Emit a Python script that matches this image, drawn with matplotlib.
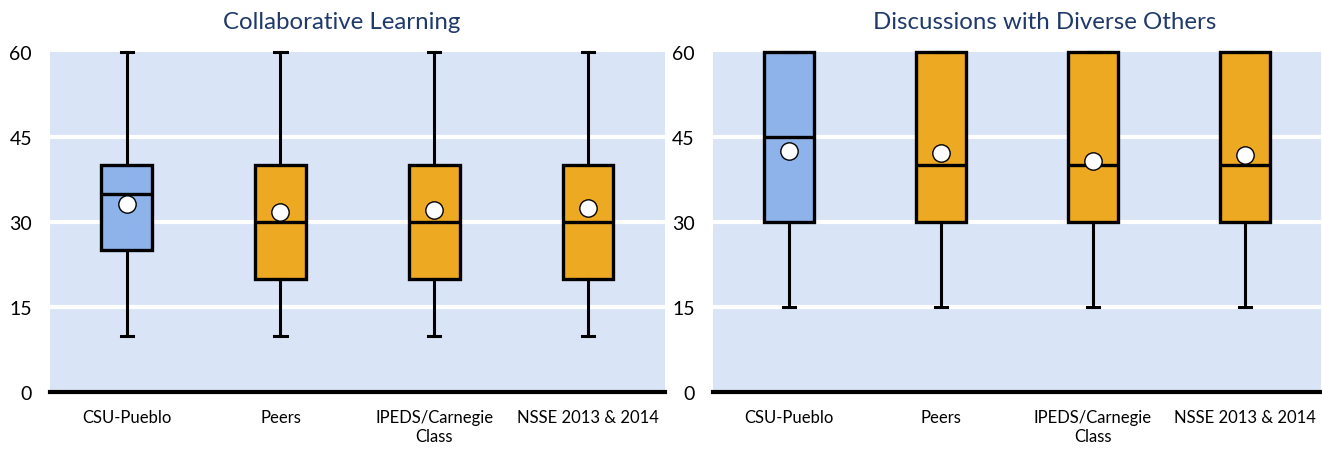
import matplotlib.pyplot as plt

plt.rcParams['font.family'] = ['Lato', 'DejaVu Sans']

groups = ['CSU-Pueblo', 'Peers', 'IPEDS/Carnegie\nClass', 'NSSE 2013 & 2014']
titles = ['Collaborative Learning', 'Discussions with Diverse Others']

# whisker low, q1, median, q3, whisker high, mean
collab_low = [10, 10, 10, 10]
collab_q1 = [25, 20, 20, 20]
collab_med = [35, 30, 30, 30]
collab_q3 = [40, 40, 40, 40]
collab_high = [60, 60, 60, 60]
collab_mean = [33.2, 31.8, 32.1, 32.4]

diverse_low = [15, 15, 15, 15]
diverse_q1 = [30, 30, 30, 30]
diverse_med = [45, 40, 40, 40]
diverse_q3 = [60, 60, 60, 60]
diverse_high = [60, 60, 60, 60]
diverse_mean = [42.6, 42.1, 40.7, 41.9]

colors = ['#8EB2EA', '#EDA921', '#EDA921', '#EDA921']


def make_stats(low, q1, med, q3, high, mean):
    return [dict(whislo=a, q1=b, med=c, q3=d, whishi=e, mean=f, fliers=[])
            for a, b, c, d, e, f in zip(low, q1, med, q3, high, mean)]


panels = [
    make_stats(collab_low, collab_q1, collab_med, collab_q3, collab_high, collab_mean),
    make_stats(diverse_low, diverse_q1, diverse_med, diverse_q3, diverse_high, diverse_mean),
]

fig = plt.figure(figsize=(13.22, 4.52), dpi=100)
axes = [fig.add_axes([0.0378, 0.130, 0.465, 0.753]),
        fig.add_axes([0.5393, 0.130, 0.460, 0.753])]
title_x = [0.475, 0.546]

for ax, stats, title, tx in zip(axes, panels, titles, title_x):
    ax.set_facecolor('#D9E4F6')
    for y in [15, 30, 45]:
        ax.axhline(y, color='white', lw=3, zorder=1)
    bp = ax.bxp(stats, positions=range(1, 5), widths=0.33, patch_artist=True,
                showmeans=True, showfliers=False,
                boxprops=dict(edgecolor='black', linewidth=2.4),
                medianprops=dict(color='black', linewidth=2.4),
                whiskerprops=dict(color='black', linewidth=2.2),
                capprops=dict(color='black', linewidth=2.2),
                meanprops=dict(marker='o', markerfacecolor='white',
                               markeredgecolor='black', markersize=12.5,
                               markeredgewidth=1),
                capwidths=0.08, zorder=3)
    for patch, c in zip(bp['boxes'], colors):
        patch.set_facecolor(c)
    for art in bp['caps'] + bp['whiskers'] + bp['boxes'] + bp['medians']:
        art.set_clip_on(False)
    ax.set_xlim(0.5, 4.5)
    ax.set_ylim(0, 60)
    ax.set_yticks([0, 15, 30, 45, 60])
    ax.set_xticks(range(1, 5))
    ax.set_xticklabels(groups, fontsize=12)
    ax.tick_params(axis='both', length=0)
    ax.tick_params(axis='y', labelsize=14, pad=13)
    ax.tick_params(axis='x', pad=12)
    for side in ['top', 'left', 'right']:
        ax.spines[side].set_visible(False)
    ax.spines['bottom'].set_linewidth(3)
    ax.spines['bottom'].set_zorder(4)
    ax.text(tx, 1.07, title, transform=ax.transAxes, ha='center', va='baseline',
            fontsize=17.3, color='#1F3A6A')

fig.savefig('out.png', dpi=100)
